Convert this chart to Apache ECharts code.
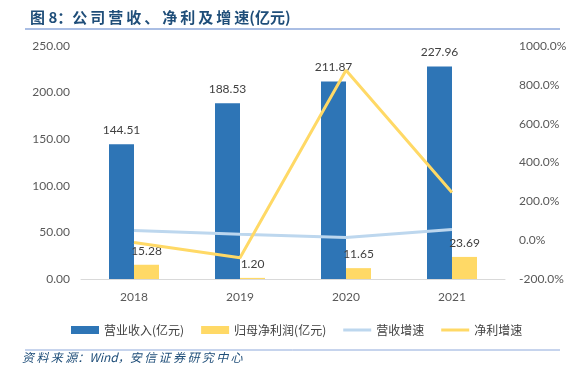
<!DOCTYPE html>
<html>
<head>
<meta charset="utf-8">
<script src="https://cdn.jsdelivr.net/npm/echarts@6/dist/echarts.min.js"></script>
<style>
  html, body { margin: 0; padding: 0; background: #fff; }
  #chart { width: 582px; height: 375px; }
</style>
</head>
<body>
<div id="chart"></div>
<script>
var years = ['2018', '2019', '2020', '2021']
var revenue = [144.51, 188.53, 211.87, 227.96] // 营业收入(亿元)
var netProfit = [15.28, 1.20, 11.65, 23.69] // 归母净利润(亿元)
var revenueGrowth = [50, 30, 14, 55] // 营收增速 %
var profitGrowth = [-12, -90, 875, 245] // 净利增速 %

var FONT = 'Lato, "Noto Sans CJK SC", sans-serif'
var CJK = '"Noto Sans CJK SC", Lato, sans-serif'

// 原图标题和来源字距较宽，用细空格拉开
function spaced(s) {
  return s.split('').join('\u2009')
}

var chart = echarts.init(document.getElementById('chart'))

chart.setOption({
  animation: false,
  textStyle: { fontFamily: FONT },
  title: {
    text: '图 8：' + spaced('公司营收、净利及增速') + '(亿元)',
    left: 25,
    top: 5,
    textStyle: {
      fontFamily: CJK,
      fontSize: 15,
      fontWeight: 'bold',
      color: '#1F4E79'
    }
  },
  graphic: [
    // 标题下横线
    { type: 'line', shape: { x1: 25, y1: 29, x2: 560, y2: 29 }, style: { stroke: '#8EA9DB', lineWidth: 1.5 } },
    // 来源上横线
    { type: 'line', shape: { x1: 25, y1: 350, x2: 560, y2: 350 }, style: { stroke: '#8EA9DB', lineWidth: 1 } },
    {
      type: 'text',
      left: 22,
      top: 351,
      style: {
        text: spaced('资料来源') + '：Wind，' + spaced('安信证券研究中心'),
        font: 'italic 12px ' + CJK,
        fill: '#1F4E79'
      }
    }
  ],
  legend: {
    left: 66,
    top: 319,
    itemWidth: 28,
    itemHeight: 8,
    itemGap: 17,
    textStyle: { fontFamily: CJK, fontSize: 12, color: '#404040' },
    data: [
      { name: '营业收入(亿元)', icon: 'rect' },
      { name: '归母净利润(亿元)', icon: 'rect' },
      { name: '营收增速', icon: 'path://M0,0L28,0L28,3L0,3Z' },
      { name: '净利增速', icon: 'path://M0,0L28,0L28,3L0,3Z' }
    ]
  },
  grid: {
    left: 81,
    right: 77,
    top: 46,
    bottom: 96
  },
  xAxis: {
    type: 'category',
    data: years,
    axisLine: { lineStyle: { color: '#D9D9D9' } },
    axisTick: { show: false },
    axisLabel: { color: '#595959', fontSize: 12, margin: 12 }
  },
  yAxis: [
    {
      type: 'value',
      min: 0,
      max: 250,
      interval: 50,
      splitLine: { show: false },
      axisLine: { show: false },
      axisTick: { show: false },
      axisLabel: {
        color: '#595959',
        fontSize: 12,
        margin: 11,
        formatter: function(v) { return v.toFixed(2) }
      }
    },
    {
      type: 'value',
      min: -200,
      max: 1000,
      interval: 200,
      splitLine: { show: false },
      axisLine: { show: false },
      axisTick: { show: false },
      axisLabel: {
        color: '#595959',
        fontSize: 12,
        margin: 14,
        formatter: function(v) { return v.toFixed(1) + '%' }
      }
    }
  ],
  series: [
    {
      name: '营业收入(亿元)',
      type: 'bar',
      data: revenue,
      barWidth: 25,
      barGap: '0%',
      itemStyle: { color: '#2E75B6' },
      label: {
        show: true,
        position: 'top',
        distance: 8,
        color: '#404040',
        fontSize: 12,
        formatter: function(p) { return p.value.toFixed(2) }
      }
    },
    {
      name: '归母净利润(亿元)',
      type: 'bar',
      data: netProfit,
      barWidth: 25,
      barGap: '0%',
      itemStyle: { color: '#FFD966' },
      label: {
        show: true,
        position: 'top',
        distance: 8,
        color: '#404040',
        fontSize: 12,
        formatter: function(p) { return p.value.toFixed(2) }
      }
    },
    {
      name: '营收增速',
      type: 'line',
      yAxisIndex: 1,
      data: revenueGrowth,
      symbol: 'none',
      itemStyle: { color: '#BDD7EE' },
      lineStyle: { color: '#BDD7EE', width: 3 },
      z: 3
    },
    {
      name: '净利增速',
      type: 'line',
      yAxisIndex: 1,
      data: profitGrowth,
      symbol: 'none',
      itemStyle: { color: '#FFD966' },
      lineStyle: { color: '#FFD966', width: 3 },
      z: 3
    }
  ]
})
</script>
</body>
</html>
